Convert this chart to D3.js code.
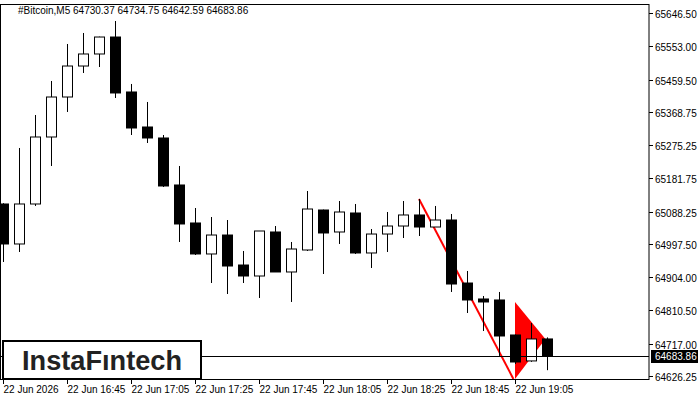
<!DOCTYPE html>
<html>
<head>
<meta charset="utf-8">
<script src="https://cdn.jsdelivr.net/npm/d3@7"></script>
<style>
  body { margin: 0; background: #fff; }
  text { font-family: "Liberation Sans", Arial, sans-serif; }
</style>
</head>
<body>
<svg width="700" height="400"></svg>
<script>
let width = 700, height = 400;
let svg = d3.select("svg");

// 5-minute candles, 22 Jun 16:25 .. 19:15
let times = ["16:25","16:30","16:35","16:40","16:45","16:50","16:55","17:00","17:05","17:10","17:15","17:20",
    "17:25","17:30","17:35","17:40","17:45","17:50","17:55","18:00","18:05","18:10","18:15","18:20",
    "18:25","18:30","18:35","18:40","18:45","18:50","18:55","19:00","19:05","19:10","19:15"];
let opens  = [65109.7,64997.3,65109.7,65298.0,65410.4,65497.5,65531.3,65579.0,65424.5,65326.1,65295.2,65163.1,
    65056.3,64969.2,65022.5,64938.2,64907.3,65031.0,64918.6,64980.4,65092.8,65031.0,65084.4,64972.0,
    65025.3,65047.8,65078.8,65045.0,65064.7,64887.6,64842.7,64839.9,64741.5,64668.6,64730.37];
let highs  = [65112.0,65267.1,65359.8,65455.4,65559.4,65590.3,65580.0,65624.0,65447.0,65396.4,65303.6,65216.5,
    65098.4,65073.1,65064.7,64977.6,65033.8,65047.8,65002.9,65146.2,65094.0,65118.1,65109.7,65039.4,
    65087.2,65118.1,65123.7,65104.1,65081.6,64921.4,64851.1,64862.4,64743.0,64775.2,64734.75];
let lows   = [64946.7,64974.8,65104.1,65216.5,65368.3,65477.9,65494.7,65407.6,65303.6,65281.1,65157.5,65002.9,
    64966.3,64887.6,64856.7,64887.6,64845.5,64918.6,64834.3,64977.6,64912.9,64997.3,64969.2,64929.8,
    64974.8,65014.1,65019.7,65045.0,64862.4,64803.3,64752.7,64682.7,64660.0,64666.0,64642.59];
let closes = [64997.3,65109.7,65298.0,65410.4,65497.5,65531.3,65579.0,65421.7,65323.3,65295.2,65160.3,65053.5,
    64969.2,65022.5,64935.4,64907.3,65033.8,64918.6,64983.2,65095.6,65028.2,65087.2,64972.0,65025.3,
    65047.8,65078.8,65045.0,65064.7,64884.8,64839.9,64834.3,64738.7,64665.6,64730.3,64683.86];

let priceTicks = [65646.50,65553.00,65459.50,65368.75,65275.25,65181.75,65088.25,64997.50,64904.00,64810.50,64717.00,64626.25];
let timeTickIdx = [0,4,8,12,16,20,24,28,32];
let timeTickLabels = ["22 Jun 2026","22 Jun 16:45","22 Jun 17:05","22 Jun 17:25","22 Jun 17:45",
    "22 Jun 18:05","22 Jun 18:25","22 Jun 18:45","22 Jun 19:05"];

// pennant pattern: pole and flag (candle index, price)
let pole = [[26, 65123.7], [31.9, 64618]];
let flag = [[32, 64834.3], [33.9, 64730.0], [32, 64618]];

let plotRight = 649, plotBottom = 379;
let x = d3.scaleLinear().domain([0, 1]).range([3, 19]);
let y = d3.scaleLinear().domain([65646.5, 64626.25]).range([13, 376]);

let candles = times.map((t, i) => ({ i: i, o: opens[i], h: highs[i], l: lows[i], c: closes[i] }));

// flag triangle behind candles
svg.append("path")
    .attr("d", d3.line().x(d => x(d[0])).y(d => y(d[1]))(flag) + "Z")
    .attr("fill", "#ff0000");
svg.append("path")
    .attr("d", d3.line().x(d => x(d[0])).y(d => y(d[1]))(pole))
    .attr("stroke", "#ff0000").attr("stroke-width", 2).attr("fill", "none");

let g = svg.append("g").attr("clip-path", "url(#clip)");
svg.append("clipPath").attr("id", "clip").append("rect")
    .attr("x", 0).attr("y", 0).attr("width", plotRight).attr("height", plotBottom);

g.selectAll("line.wick").data(candles).enter().append("line")
    .attr("x1", d => Math.round(x(d.i)) + 0.5).attr("x2", d => Math.round(x(d.i)) + 0.5)
    .attr("y1", d => y(d.h)).attr("y2", d => y(d.l))
    .attr("stroke", "#000");
g.selectAll("rect.body").data(candles).enter().append("rect")
    .attr("x", d => Math.round(x(d.i)) - 4.5)
    .attr("y", d => y(Math.max(d.o, d.c)))
    .attr("width", 10)
    .attr("height", d => Math.max(1, Math.abs(y(d.o) - y(d.c))))
    .attr("fill", d => d.c >= d.o ? "#fff" : "#000")
    .attr("stroke", "#000");

// current price line
svg.append("line")
    .attr("x1", 0).attr("x2", plotRight)
    .attr("y1", Math.round(y(closes[closes.length - 1])) + 0.5)
    .attr("y2", Math.round(y(closes[closes.length - 1])) + 0.5)
    .attr("stroke", "#000");

// frame
svg.append("rect").attr("x", 0.5).attr("y", 4.5).attr("width", plotRight - 0.5).attr("height", plotBottom - 4)
    .attr("fill", "none").attr("stroke", "#000");

// price axis
let pa = svg.append("g");
priceTicks.forEach(p => {
    let yy = Math.round(y(p)) + 0.5;
    pa.append("line").attr("x1", plotRight).attr("x2", plotRight + 4).attr("y1", yy).attr("y2", yy).attr("stroke", "#000");
    pa.append("text").attr("x", 655).attr("y", yy + 4).attr("font-size", 10).text(p.toFixed(2));
});
let cy = Math.round(y(closes[closes.length - 1]));
pa.append("rect").attr("x", 651).attr("y", cy - 6).attr("width", 47).attr("height", 13).attr("fill", "#000");
pa.append("text").attr("x", 655).attr("y", cy + 4).attr("font-size", 10).attr("fill", "#fff")
    .text(closes[closes.length - 1].toFixed(2));

// time axis
timeTickIdx.forEach((ti, k) => {
    let xx = Math.round(x(ti)) + 0.5;
    svg.append("line").attr("x1", xx).attr("x2", xx).attr("y1", plotBottom).attr("y2", plotBottom + 5).attr("stroke", "#000");
    svg.append("text").attr("x", xx).attr("y", 393).attr("font-size", 10).text(timeTickLabels[k]);
});

// header
svg.append("text").attr("x", 18).attr("y", 14).attr("font-size", 10)
    .text("#Bitcoin,M5  64730.37 64734.75 64642.59 64683.86");

// logo
svg.append("rect").attr("x", 3).attr("y", 341).attr("width", 198).attr("height", 38)
    .attr("fill", "#fff").attr("stroke", "#000").attr("stroke-width", 2);
svg.append("text").attr("x", 22).attr("y", 370).attr("font-size", 27).attr("font-weight", 600)
    .attr("textLength", 160).attr("lengthAdjust", "spacingAndGlyphs")
    .attr("font-family", "Inter, Lato, sans-serif").attr("fill", "#222").text("InstaFıntech");
</script>
</body>
</html>
